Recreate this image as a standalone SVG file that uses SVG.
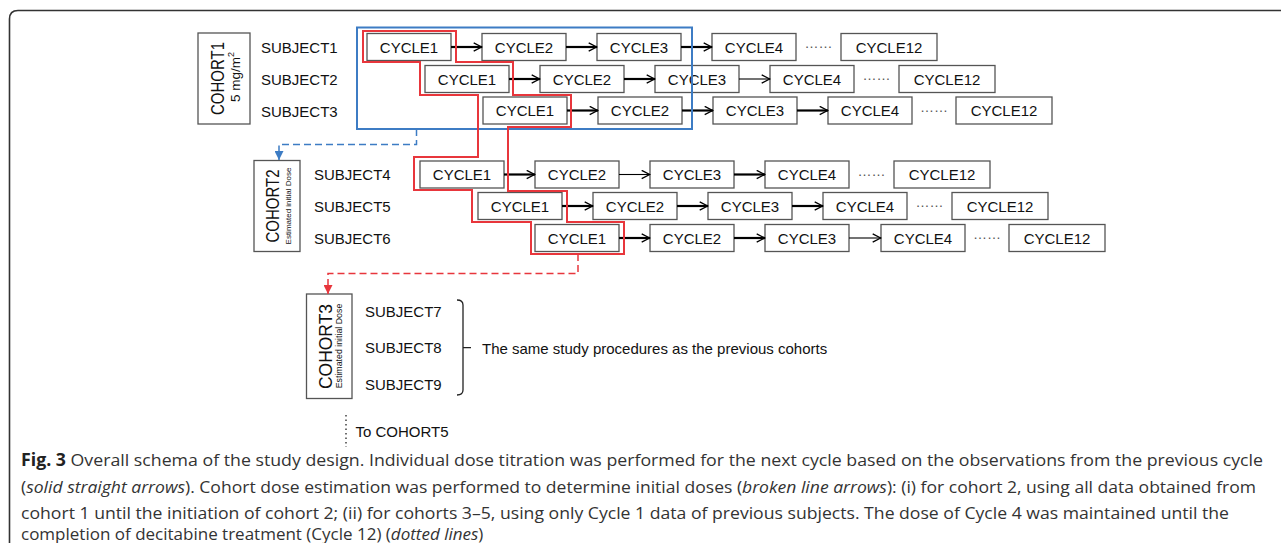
<svg xmlns="http://www.w3.org/2000/svg" width="1281" height="543" viewBox="0 0 1281 543">
<style>
.bx{fill:#fff;stroke:#555;stroke-width:1.3}
.t{font-family:"Liberation Sans",Arial,sans-serif;font-size:15px;fill:#111}
.c{text-anchor:middle}
.dots{font-family:"Liberation Sans",Arial,sans-serif;font-size:14px;fill:#555;text-anchor:middle}
.T{stroke:#000;stroke-width:2.2;fill:none;marker-end:url(#ah)}
.n{stroke:#000;stroke-width:1.1;fill:none;marker-end:url(#ah)}
.cap{font-family:"Open Sans","Noto Sans",sans-serif;font-size:17px;fill:#333}
</style>
<defs>
<marker id="ah" markerUnits="userSpaceOnUse" viewBox="0 0 10 10" refX="9.3" refY="5" markerWidth="10" markerHeight="10" orient="auto"><path d="M1,0.8 L9,5 L1,9.2" fill="none" stroke="#000" stroke-width="1.3"/></marker>
<marker id="ab" markerUnits="userSpaceOnUse" viewBox="0 0 10 10" refX="10" refY="5" markerWidth="9" markerHeight="9" orient="auto"><path d="M0,0 L10,5 L0,10 z" fill="#3d7cc4"/></marker>
<marker id="ar" markerUnits="userSpaceOnUse" viewBox="0 0 10 10" refX="10" refY="5" markerWidth="9" markerHeight="9" orient="auto"><path d="M0,0 L10,5 L0,10 z" fill="#e8363c"/></marker>
</defs>
<rect width="1281" height="543" fill="#fff"/>
<path d="M9.5,543 V19 Q9.5,10.5 18,10.5 H1281" fill="none" stroke="#333" stroke-width="1.6"/>

<g id="cohort1">
<rect class="bx" x="198" y="33" width="52" height="91"/>
<text class="t c" transform="translate(224,78.5) rotate(-90) scale(1,1.25)">COHORT1</text>
<text class="t c" style="font-size:13.5px" transform="translate(239.5,77) rotate(-90)">5 mg/m<tspan style="font-size:9px" dy="-6">2</tspan></text>
</g>
<g id="cohort2">
<rect class="bx" x="254" y="160.5" width="46" height="91"/>
<text class="t c" transform="translate(279,206) rotate(-90) scale(1,1.2)">COHORT2</text>
<text class="t c" style="font-size:8px" transform="translate(290.5,206) rotate(-90)">Estimated initial Dose</text>
</g>
<g id="cohort3">
<rect class="bx" x="306.5" y="294" width="45.5" height="104.5"/>
<text class="t c" style="font-size:17.5px" transform="translate(331.5,346.5) rotate(-90) scale(1,1.1)">COHORT3</text>
<text class="t c" style="font-size:8.8px" transform="translate(341.5,346) rotate(-90)">Estimated initial Dose</text>
</g>

<g id="subjects">
<text class="t" x="261" y="52.5">SUBJECT1</text>
<text class="t" x="261" y="84.5">SUBJECT2</text>
<text class="t" x="261" y="116.5">SUBJECT3</text>
<text class="t" x="314" y="180">SUBJECT4</text>
<text class="t" x="314" y="211.5">SUBJECT5</text>
<text class="t" x="314" y="243.5">SUBJECT6</text>
<text class="t" x="365" y="317">SUBJECT7</text>
<text class="t" x="365" y="353.3">SUBJECT8</text>
<text class="t" x="365" y="390">SUBJECT9</text>
</g>

<g id="row1">
<rect class="bx" x="367" y="33.5" width="84" height="27"/><text class="t c" x="409" y="52.5">CYCLE1</text>
<rect class="bx" x="482" y="33.5" width="84" height="27"/><text class="t c" x="524" y="52.5">CYCLE2</text>
<rect class="bx" x="597" y="33.5" width="84" height="27"/><text class="t c" x="639" y="52.5">CYCLE3</text>
<rect class="bx" x="712" y="33.5" width="84" height="27"/><text class="t c" x="754" y="52.5">CYCLE4</text>
<text class="dots" x="818.5" y="48">……</text>
<rect class="bx" x="841" y="33.5" width="96" height="27"/><text class="t c" x="889" y="52.5">CYCLE12</text>
</g>
<g id="row2">
<rect class="bx" x="425" y="65.5" width="84" height="27"/><text class="t c" x="467" y="84.5">CYCLE1</text>
<rect class="bx" x="540" y="65.5" width="84" height="27"/><text class="t c" x="582" y="84.5">CYCLE2</text>
<rect class="bx" x="655" y="65.5" width="84" height="27"/><text class="t c" x="697" y="84.5">CYCLE3</text>
<rect class="bx" x="770" y="65.5" width="84" height="27"/><text class="t c" x="812" y="84.5">CYCLE4</text>
<text class="dots" x="876.5" y="80">……</text>
<rect class="bx" x="899" y="65.5" width="96" height="27"/><text class="t c" x="947" y="84.5">CYCLE12</text>
</g>
<g id="row3">
<rect class="bx" x="483" y="97" width="84" height="27"/><text class="t c" x="525" y="116">CYCLE1</text>
<rect class="bx" x="598" y="97" width="84" height="27"/><text class="t c" x="640" y="116">CYCLE2</text>
<rect class="bx" x="713" y="97" width="84" height="27"/><text class="t c" x="755" y="116">CYCLE3</text>
<rect class="bx" x="828" y="97" width="84" height="27"/><text class="t c" x="870" y="116">CYCLE4</text>
<text class="dots" x="934" y="111.5">……</text>
<rect class="bx" x="956" y="97" width="96" height="27"/><text class="t c" x="1004" y="116">CYCLE12</text>
</g>
<g id="row4">
<rect class="bx" x="420" y="161" width="84" height="27"/><text class="t c" x="462" y="180">CYCLE1</text>
<rect class="bx" x="535" y="161" width="84" height="27"/><text class="t c" x="577" y="180">CYCLE2</text>
<rect class="bx" x="650" y="161" width="84" height="27"/><text class="t c" x="692" y="180">CYCLE3</text>
<rect class="bx" x="765" y="161" width="84" height="27"/><text class="t c" x="807" y="180">CYCLE4</text>
<text class="dots" x="871.5" y="175.5">……</text>
<rect class="bx" x="894" y="161" width="96" height="27"/><text class="t c" x="942" y="180">CYCLE12</text>
</g>
<g id="row5">
<rect class="bx" x="478" y="192.5" width="84" height="27"/><text class="t c" x="520" y="211.5">CYCLE1</text>
<rect class="bx" x="593" y="192.5" width="84" height="27"/><text class="t c" x="635" y="211.5">CYCLE2</text>
<rect class="bx" x="708" y="192.5" width="84" height="27"/><text class="t c" x="750" y="211.5">CYCLE3</text>
<rect class="bx" x="823" y="192.5" width="84" height="27"/><text class="t c" x="865" y="211.5">CYCLE4</text>
<text class="dots" x="929.5" y="207">……</text>
<rect class="bx" x="952" y="192.5" width="96" height="27"/><text class="t c" x="1000" y="211.5">CYCLE12</text>
</g>
<g id="row6">
<rect class="bx" x="535" y="224.5" width="84" height="27"/><text class="t c" x="577" y="243.5">CYCLE1</text>
<rect class="bx" x="650" y="224.5" width="84" height="27"/><text class="t c" x="692" y="243.5">CYCLE2</text>
<rect class="bx" x="765" y="224.5" width="84" height="27"/><text class="t c" x="807" y="243.5">CYCLE3</text>
<rect class="bx" x="881" y="224.5" width="84" height="27"/><text class="t c" x="923" y="243.5">CYCLE4</text>
<text class="dots" x="987" y="239">……</text>
<rect class="bx" x="1009" y="224.5" width="96" height="27"/><text class="t c" x="1057" y="243.5">CYCLE12</text>
</g>

<g id="connectors">
<path class="T" d="M451,47 H482"/><path class="T" d="M566,47 H597"/><path class="T" d="M681,47 H712"/>
<path class="T" d="M509,79 H540"/><path class="T" d="M624,79 H655"/><path class="n" d="M739,79 H770"/>
<path class="T" d="M567,110.5 H598"/><path class="T" d="M682,110.5 H713"/><path class="T" d="M797,110.5 H828"/>
<path class="T" d="M504,174.5 H535"/><path class="n" d="M619,174.5 H650"/><path class="T" d="M734,174.5 H765"/>
<path class="T" d="M562,206 H593"/><path class="T" d="M677,206 H708"/><path class="T" d="M792,206 H823"/>
<path class="T" d="M619,238 H650"/><path class="T" d="M734,238 H765"/><path class="n" d="M849,238 H881"/>
<rect x="357" y="27.5" width="335" height="101.5" fill="none" stroke="#3d7cc4" stroke-width="2"/>
<path d="M363,31 H456 V62 H513 V95 H571 V127 H508 V191 H567 V222 H624 V254 H531 V222 H472 V190 H414 V157 H478 V95 H420 V62 H363 Z" fill="none" stroke="#e8363c" stroke-width="2"/>
<path d="M416.5,129 V144.5 H279 V160" fill="none" stroke="#3d7cc4" stroke-width="1.5" stroke-dasharray="7,4" marker-end="url(#ab)"/>
<path d="M578,254 V273.5 H328 V294" fill="none" stroke="#e8363c" stroke-width="1.5" stroke-dasharray="7,4" marker-end="url(#ar)"/>
<path d="M457,300 Q463,300 463,305 V390 Q463,395 457,395 M463,347.6 H471" fill="none" stroke="#222" stroke-width="1.3"/>
<path d="M346,415 V447" fill="none" stroke="#222" stroke-width="1.3" stroke-dasharray="1.5,3"/>
</g>

<g id="labels">
<text class="t" x="482" y="354">The same study procedures as the previous cohorts</text>
<text class="t" x="355.5" y="436.5">To COHORT5</text>
</g>

<g id="caption">
<text class="cap" x="21" y="465.5" textLength="1242" lengthAdjust="spacingAndGlyphs"><tspan font-weight="bold" fill="#222">Fig. 3</tspan> Overall schema of the study design. Individual dose titration was performed for the next cycle based on the observations from the previous cycle</text>
<text class="cap" x="21" y="492.5" textLength="1235" lengthAdjust="spacingAndGlyphs">(<tspan font-style="italic">solid straight arrows</tspan>). Cohort dose estimation was performed to determine initial doses (<tspan font-style="italic">broken line arrows</tspan>): (i) for cohort 2, using all data obtained from</text>
<text class="cap" x="21" y="518.5" textLength="1208" lengthAdjust="spacingAndGlyphs">cohort 1 until the initiation of cohort 2; (ii) for cohorts 3–5, using only Cycle 1 data of previous subjects. The dose of Cycle 4 was maintained until the</text>
<text class="cap" x="21" y="540">completion of decitabine treatment (Cycle 12) (<tspan font-style="italic">dotted lines</tspan>)</text>
</g>
</svg>
